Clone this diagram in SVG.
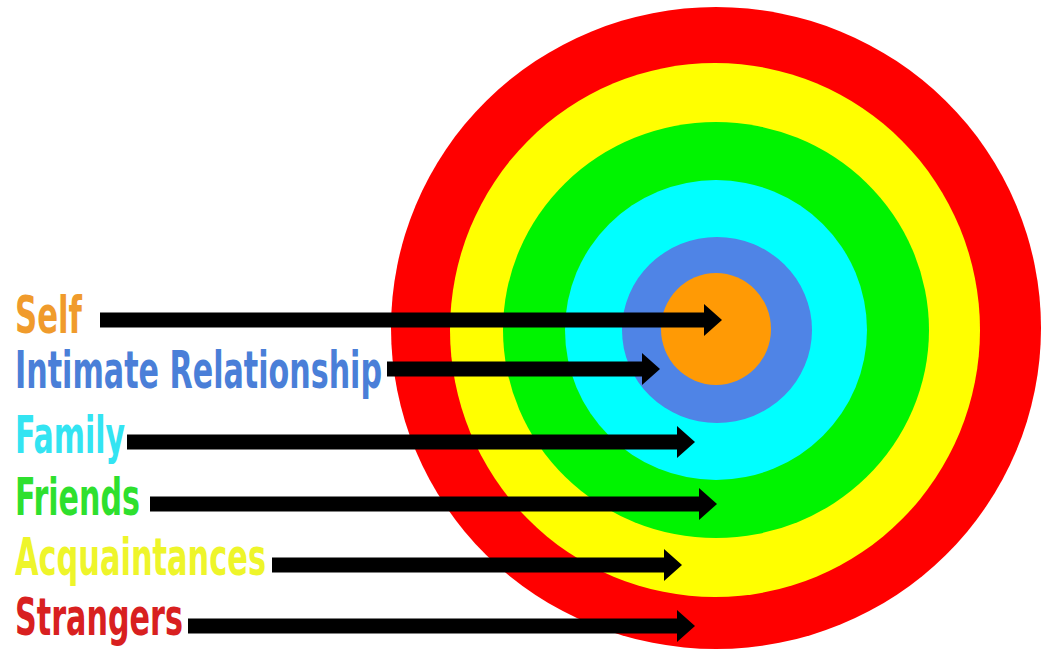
<svg xmlns="http://www.w3.org/2000/svg" width="1046" height="656" viewBox="0 0 1046 656">
  <style>
    .lbl { font-family: "DejaVu Sans Condensed", "DejaVu Sans", "Liberation Sans", sans-serif; font-weight: bold; font-size: 52px; }
    .arr { stroke: #000; stroke-width: 15; fill: none; marker-end: url(#head); }
  </style>
  <defs>
    <marker id="head" viewBox="0 0 18 32" refX="1" refY="16" markerWidth="18" markerHeight="32" markerUnits="userSpaceOnUse" orient="auto">
      <path d="M0,0 L18,16 L0,32 Z" fill="#000"/>
    </marker>
  </defs>
  <rect width="1046" height="656" fill="#fff"/>

  <g id="rings">
    <ellipse id="ring-strangers" cx="716" cy="328" rx="325" ry="321" fill="#FF0000"/>
    <ellipse id="ring-acquaintances" cx="715" cy="330" rx="265" ry="267" fill="#FFFF00"/>
    <ellipse id="ring-friends" cx="716" cy="330" rx="213" ry="208" fill="#00F400"/>
    <ellipse id="ring-family" cx="716" cy="330" rx="151" ry="150" fill="#00FFFF"/>
    <ellipse id="ring-intimate" cx="717" cy="330" rx="95" ry="93" fill="#4F84E6"/>
    <ellipse id="ring-self" cx="716" cy="329" rx="55" ry="56" fill="#FF9A05"/>
  </g>

  <g id="connectors">
    <line class="arr" x1="100" y1="320" x2="705" y2="320"/>
    <line class="arr" x1="387" y1="369" x2="643" y2="369"/>
    <line class="arr" x1="127" y1="442" x2="678" y2="442"/>
    <line class="arr" x1="150" y1="504" x2="700" y2="504"/>
    <line class="arr" x1="272" y1="565" x2="665" y2="565"/>
    <line class="arr" x1="188" y1="626" x2="678" y2="626"/>
  </g>

  <g id="label-self"><text class="lbl" x="15" y="333" fill="#F09B2C" font-size="55" textLength="67" lengthAdjust="spacingAndGlyphs">Self</text></g>
  <g id="label-intimate"><text class="lbl" x="15" y="388" fill="#4A7FD8" textLength="367" lengthAdjust="spacingAndGlyphs">Intimate Relationship</text></g>
  <g id="label-family"><text class="lbl" x="15" y="453" fill="#33E4F2" textLength="110" lengthAdjust="spacingAndGlyphs">Family</text></g>
  <g id="label-friends"><text class="lbl" x="15" y="515" fill="#2EE02E" textLength="125" lengthAdjust="spacingAndGlyphs">Friends</text></g>
  <g id="label-acquaintances"><text class="lbl" x="15" y="575" fill="#EEF52A" textLength="251" lengthAdjust="spacingAndGlyphs">Acquaintances</text></g>
  <g id="label-strangers"><text class="lbl" x="15" y="635" fill="#D82020" textLength="168" lengthAdjust="spacingAndGlyphs">Strangers</text></g>
</svg>
